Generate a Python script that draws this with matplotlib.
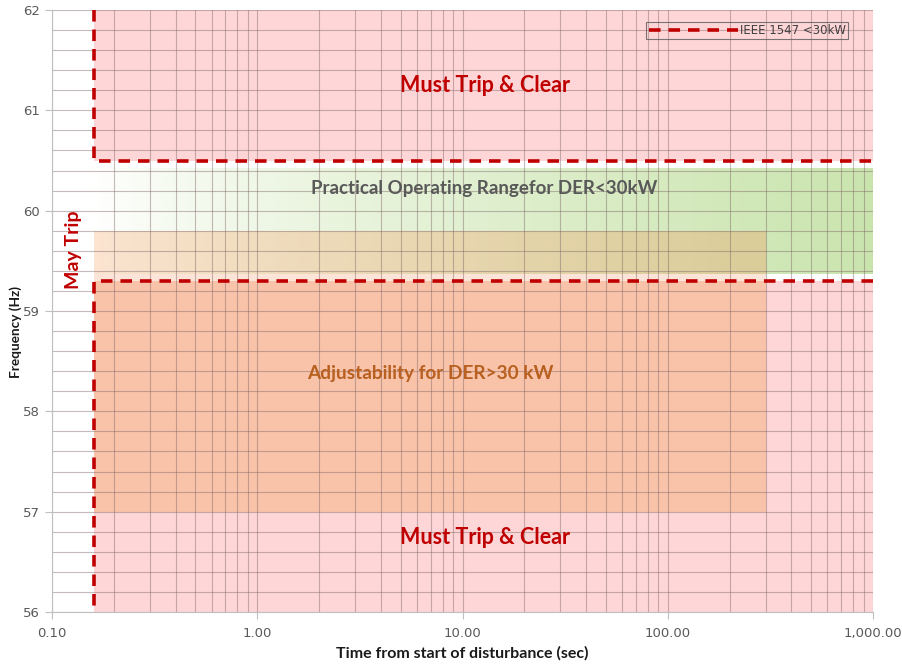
import numpy as np
import matplotlib
matplotlib.use("Agg")
import matplotlib.pyplot as plt
from matplotlib.colors import LinearSegmentedColormap
from matplotlib.ticker import FixedLocator

# ---------------- data ----------------
x_limits = [0.1, 1000]
y_limits = [56, 62]
x_ticks = [0.1, 1, 10, 100, 1000]
x_tick_labels = ["0.10", "1.00", "10.00", "100.00", "1,000.00"]
y_ticks = [56, 57, 58, 59, 60, 61, 62]

# IEEE 1547 <30kW trip boundary (two branches)
upper_x = [0.16, 0.16, 1000]
upper_y = [62, 60.5, 60.5]
lower_x = [1000, 0.16, 0.16]
lower_y = [59.3, 59.3, 56]

# regions: (x0, x1, y0, y1)
must_trip_upper = (0.16, 1000, 60.5, 62)
must_trip_lower = (0.16, 1000, 56, 59.3)
adjust_region = (0.16, 300, 57, 59.3)
adjust_strip = (0.16, 300, 59.3, 59.37)
practical_range = (0.16, 1000, 59.37, 60.43)
adjust_band = (0.16, 300, 59.37, 59.8)

# ---------------- figure ----------------
fig = plt.figure(figsize=(9.02, 6.65), dpi=100)
ax = fig.add_axes([52/902, 53/665, 821/902, 602/665])
ax.set_xscale("log")
ax.set_xlim(*x_limits)
ax.set_ylim(*y_limits)

pink = "#FFD6D8"
salmon = "#F9C3AA"
red = "#C00000"

def rect(r, color, z=1):
    ax.fill_between([r[0], r[1]], r[2], r[3], color=color, lw=0, zorder=z)

rect(must_trip_upper, pink)
rect(must_trip_lower, pink)
rect(adjust_region, salmon, 1.1)
rect(adjust_strip, "#FDE4D8", 1.1)

# gradient helper (log-x position)
lx0, lx1 = np.log10(0.16), np.log10(1000)
def grad_mesh(r, c0, c1):
    xe = np.logspace(np.log10(r[0]), np.log10(r[1]), 300)
    xc = np.sqrt(xe[:-1] * xe[1:])
    t = np.clip((np.log10(xc) - lx0) / (lx1 - lx0), 0, 1) ** 0.75
    cmap = LinearSegmentedColormap.from_list("g", [c0, c1])
    ax.pcolormesh(xe, [r[2], r[3]], t[None, :], cmap=cmap, vmin=0, vmax=1,
                  shading="flat", edgecolors="none", antialiased=False, zorder=1.05)

grad_mesh(practical_range, "#FFFFFF", "#CAE4AE")
grad_mesh(adjust_band, "#FCE4D2", "#D6CA92")

# grid
ax.yaxis.set_major_locator(FixedLocator(y_ticks))
ax.yaxis.set_minor_locator(FixedLocator(np.arange(56, 62.01, 0.2)))
ax.xaxis.set_major_locator(FixedLocator(x_ticks))
minor_x = [m * 10.0**e for e in range(-1, 3) for m in range(2, 10)]
ax.xaxis.set_minor_locator(FixedLocator(minor_x))
ax.grid(True, which="both", color="#806868", alpha=0.45, lw=0.8)
ax.tick_params(which="minor", length=0)

ax.set_xticks(x_ticks)
ax.set_xticklabels(x_tick_labels)
ax.tick_params(which="major", length=5, color="#BFBFBF", labelsize=9.5,
               labelcolor="#595959")
ax.tick_params(axis="x", pad=6)
for s in ["top", "right"]:
    ax.spines[s].set_visible(False)
for s in ["left", "bottom"]:
    ax.spines[s].set_color("#BFBFBF")

# boundary lines
ln, = ax.plot(upper_x, upper_y, color=red, lw=2.6, dashes=(3.2, 2.2),
              zorder=3, label="IEEE 1547 <30kW")
ax.plot(lower_x, lower_y, color=red, lw=2.6, dashes=(3.2, 2.2), zorder=3)

leg = ax.legend(loc="upper right", bbox_to_anchor=(0.9695, 0.9805), fontsize=8.5,
                frameon=True, fancybox=False, edgecolor="#595959",
                facecolor="none", handlelength=7.6, handletextpad=0.1,
                borderpad=0.2, borderaxespad=0)
leg.get_frame().set_linewidth(0.8)
for t in leg.get_texts():
    t.set_color("#404040")

font = "Lato"
ax.text(12.8, 61.25, "Must Trip & Clear", color=red, fontsize=15.5,
        fontweight="bold", ha="center", va="center", family=font, zorder=5)
ax.text(12.8, 56.74, "Must Trip & Clear", color=red, fontsize=15.5,
        fontweight="bold", ha="center", va="center", family=font, zorder=5)
ax.text(12.8, 60.22, "Practical Operating Rangefor DER<30kW", color="#595959",
        fontsize=13.5, fontweight="bold", ha="center", va="center", family=font,
        zorder=5)
ax.text(7.0, 58.38, "Adjustability for DER>30 kW", color="#B8601F",
        fontsize=13.7, fontweight="bold", ha="center", va="center", family=font,
        zorder=5)
ax.text(0.127, 59.61, "May Trip", color=red, fontsize=14, fontweight="bold",
        rotation=90, ha="center", va="center", family=font, zorder=5)

ax.set_xlabel("Time from start of disturbance (sec)", fontsize=11.5,
              fontweight="bold", family=font, color="#1A1A1A", labelpad=4)
ax.set_ylabel("Frequency (Hz)", fontsize=9.8, fontweight="bold", family=font,
              color="#1A1A1A")
ax.yaxis.set_label_coords(-0.036, 0.465)

fig.savefig("out.png", dpi=100)
